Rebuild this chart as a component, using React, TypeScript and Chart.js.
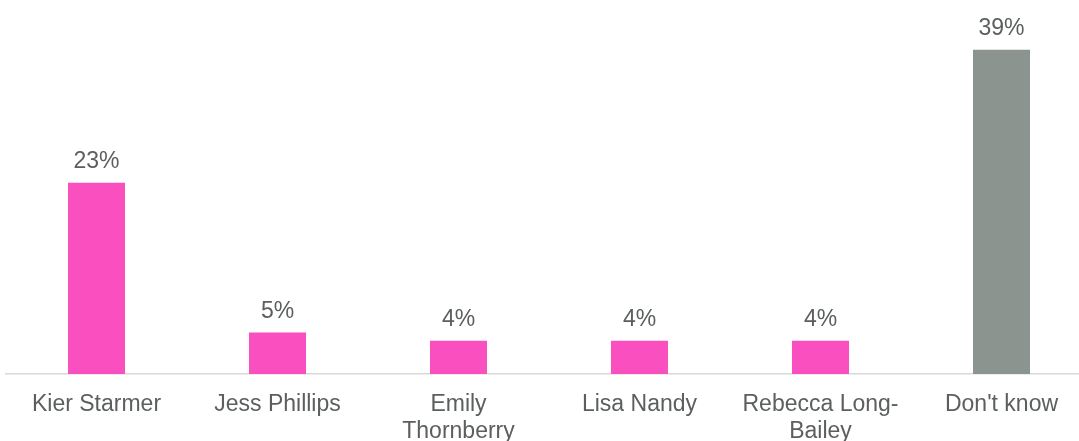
import React, { useEffect, useRef } from "react";
import { Chart, registerables } from "chart.js";

Chart.register(...registerables);

const categories: (string | string[])[] = [
  "Kier Starmer",
  "Jess Phillips",
  ["Emily", "Thornberry"],
  "Lisa Nandy",
  ["Rebecca Long-", "Bailey"],
  "Don't know",
];
const values = [23, 5, 4, 4, 4, 39];
const barColors = ["#F94FBF", "#F94FBF", "#F94FBF", "#F94FBF", "#F94FBF", "#8C9490"];
const yMax = 45;

const TEXT = "#5B605D";
const FONT = "'Liberation Sans', Arial, sans-serif";

const valueLabels = {
  id: "valueLabels",
  afterDatasetsDraw(chart: any) {
    const ctx = chart.ctx;
    const meta = chart.getDatasetMeta(0);
    ctx.save();
    ctx.font = `23px ${FONT}`;
    ctx.fillStyle = TEXT;
    ctx.textAlign = "center";
    ctx.textBaseline = "middle";
    meta.data.forEach((bar: any, i: number) => {
      ctx.fillText(`${values[i]}%`, bar.x, bar.y - 21);
    });
    ctx.restore();
  },
};

export default function App() {
  const ref = useRef<HTMLCanvasElement | null>(null);
  useEffect(() => {
    if (!ref.current) return;
    const chart = new Chart(ref.current, {
      type: "bar",
      data: {
        labels: categories,
        datasets: [
          {
            data: values,
            backgroundColor: barColors,
            borderWidth: 0,
            categoryPercentage: 1,
            barPercentage: 0.315,
          },
        ],
      },
      options: {
        responsive: false,
        animation: false,
        devicePixelRatio: 1,
        layout: { padding: { left: 6, right: 0, top: 0, bottom: 0 } },
        plugins: { legend: { display: false }, tooltip: { enabled: false } },
        scales: {
          x: {
            grid: { display: false, drawTicks: false },
            border: { display: true, color: "#D9D9D9", width: 1.5 },
            ticks: {
              color: TEXT,
              font: { family: FONT, size: 23, lineHeight: 1.17 },
              padding: 17,
              maxRotation: 0,
              autoSkip: false,
            },
            afterFit: (scale: any) => {
              scale.height = 67;
            },
          },
          y: {
            display: false,
            min: 0,
            max: yMax,
          },
        },
      },
      plugins: [valueLabels],
    });
    return () => chart.destroy();
  }, []);
  return (
    <div
      style={{
        position: "fixed",
        left: 0,
        top: 0,
        width: 1079,
        height: 441,
        overflow: "hidden",
        background: "#fff",
      }}
    >
      <canvas ref={ref} width={1092} height={441} style={{ width: 1092, height: 441, display: "block" }} />
    </div>
  );
}
